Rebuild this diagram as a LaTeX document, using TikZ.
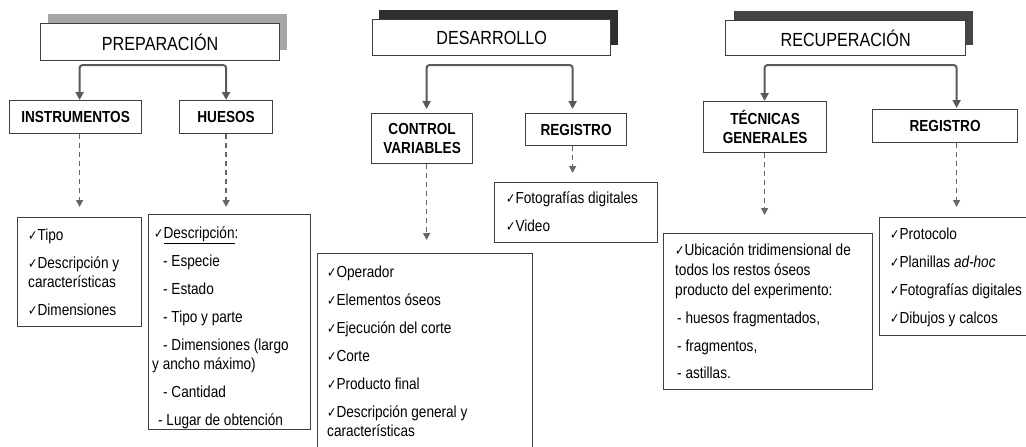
\documentclass[tikz,border=0pt]{standalone}
\usepackage{fontspec}
\setmainfont{Liberation Sans}[FakeStretch=0.85]
\newfontfamily\chkfont{DejaVu Sans}[FakeStretch=0.8]
\usetikzlibrary{arrows.meta}
\newcommand{\ck}{{\chkfont\fontsize{14}{14}\selectfont ✓}}
\newcommand{\fl}{\rule{0pt}{12pt}}
\definecolor{shA}{HTML}{A6A6A6}
\definecolor{shB}{HTML}{2E2E2E}
\definecolor{shC}{HTML}{444444}
\begin{document}
\begin{tikzpicture}[x=1pt,y=-1pt,
 hdr/.style={draw=black!75, line width=1.3pt, fill=white, anchor=north west, inner sep=0pt, font=\fontsize{19}{22}\selectfont},
 sub/.style={draw=black!75, line width=1.2pt, fill=white, anchor=north west, inner sep=0pt, align=center, font=\fontsize{16}{19}\selectfont\bfseries},
 detail/.style={draw=black!75, line width=1.1pt, anchor=north west, inner sep=0pt},
 txt/.style={anchor=north west, inner sep=0pt, align=left, font=\fontsize{16}{19}\selectfont},
 bracket/.style={draw=black!65, line width=2pt, rounded corners=3pt, arrows={Triangle[width=8pt,length=8pt]-Triangle[width=8pt,length=8pt]}},
 dashline/.style={draw=black!60, line width=1.3pt, dash pattern=on 5pt off 4pt, -{Triangle[width=7pt,length=7pt]}}
]
\useasboundingbox[fill=white] (0,0) rectangle (1026,447);

% ---------- headers with shadows ----------
\fill[shA] (48,14) rectangle (287,50);
\node[hdr, minimum width=239pt, minimum height=37pt] (prep) at (40,23) {PREPARACIÓN};
\fill[shB] (379,10) rectangle (618,45);
\node[hdr, minimum width=238pt, minimum height=36pt] (desa) at (372,19) {DESARROLLO};
\fill[shC] (734,11) rectangle (973,45);
\node[hdr, minimum width=240pt, minimum height=35pt] (recu) at (725,20) {RECUPERACIÓN};

% ---------- sub boxes ----------
\node[sub, minimum width=132pt, minimum height=33pt] (instr) at (9,100) {INSTRUMENTOS};
\node[sub, minimum width=93pt, minimum height=33pt] (huesos) at (179,100) {HUESOS};
\node[sub, minimum width=101pt, minimum height=50pt] (ctrl) at (371,113) {CONTROL\\VARIABLES};
\node[sub, minimum width=101pt, minimum height=32pt] (regA) at (525,113) {REGISTRO};
\node[sub, minimum width=123pt, minimum height=51pt] (tec) at (703,101) {TÉCNICAS\\GENERALES};
\node[sub, minimum width=145pt, minimum height=33pt] (regB) at (872,109) {REGISTRO};

% ---------- detail boxes ----------
\node[detail, minimum width=124pt, minimum height=109pt] (tipo) at (17,217) {};
\node[detail, minimum width=162pt, minimum height=215pt] (hdet) at (148,214) {};
\node[detail, minimum width=215pt, minimum height=200pt] (cdet) at (317,253) {};
\node[detail, minimum width=163pt, minimum height=60pt] (foto) at (494,182) {};
\node[detail, minimum width=209pt, minimum height=156pt] (ubic) at (663,233) {};
\node[detail, minimum width=155pt, minimum height=118pt] (prot) at (879,217) {};

% ---------- texts ----------
\node[txt] (tipoT) at (28,228.5) {\fl\ck Tipo\\[9pt]\ck Descripción y\\características\\[9pt]\ck Dimensiones};
\node[txt] (hdetT) at (152,226.5) {\fl\hspace*{2pt}\ck\underline{Descripción}:\\[9pt]
 \hspace*{11pt}- Especie\\[9pt]
 \hspace*{11pt}- Estado\\[9pt]
 \hspace*{11pt}- Tipo y parte\\[9pt]
 \hspace*{11pt}- Dimensiones (largo\\
 y ancho máximo)\\[9pt]
 \hspace*{11pt}- Cantidad\\[9pt]
 \hspace*{6pt}- Lugar de obtención};
\node[txt] (cdetT) at (327,265.5) {\fl\ck Operador\\[9pt]\ck Elementos óseos\\[9pt]\ck Ejecución del corte\\[9pt]\ck Corte\\[9pt]\ck Producto final\\[9pt]\ck Descripción general y\\características};
\node[txt] (fotoT) at (506,191.5) {\fl\ck Fotografías digitales\\[9pt]\ck Video};
\node[txt, font=\fontsize{16}{20}\selectfont] (ubicT) at (675,243.5) {\fl\ck Ubicación tridimensional de\\todos los restos óseos\\producto del experimento:\\[8pt]
 \hspace*{2pt}- huesos fragmentados,\\[8pt]
 \hspace*{2pt}- fragmentos,\\[7pt]
 \hspace*{2pt}- astillas.};
\node[txt] (protT) at (890,227.5) {\fl\ck Protocolo\\[9pt]\ck Planillas \textit{ad-hoc}\\[9pt]\ck Fotografías digitales\\[9pt]\ck Dibujos y calcos};

% ---------- brackets ----------
\coordinate (pj) at (152,65);
\coordinate (dj) at (499,65);
\coordinate (rj) at (860,65);
\draw[bracket] ([xshift=4pt]instr.north) |- (pj) -| (huesos.north);
\draw[bracket, shorten <=4pt, shorten >=4pt] ([xshift=4.5pt]ctrl.north) |- (dj) -| ([xshift=-3.5pt]regA.north);
\draw[bracket, shorten >=1pt] ([xshift=-0.5pt]tec.north) |- (rj) -| ([xshift=11.5pt]regB.north);

% ---------- dashed connectors ----------
\draw[dashline, shorten >=10pt] ([xshift=4pt]instr.south) -- ([xshift=4pt]instr.south |- tipo.north);
\draw[dashline, shorten >=7pt] (huesos.south) -- (huesos.south |- hdet.north);
\draw[dashline, shorten >=13pt] ([xshift=4.5pt]ctrl.south) -- ([xshift=4.5pt]ctrl.south |- cdet.north);
\draw[dashline, shorten >=9pt] ([xshift=-3.5pt]regA.south) -- ([xshift=-3.5pt]regA.south |- foto.north);
\draw[dashline, shorten >=18pt] ([xshift=-0.5pt]tec.south) -- ([xshift=-0.5pt]tec.south |- ubic.north);
\draw[dashline, shorten >=10pt] ([xshift=11.5pt]regB.south) -- ([xshift=11.5pt]regB.south |- prot.north);
\end{tikzpicture}
\end{document}
